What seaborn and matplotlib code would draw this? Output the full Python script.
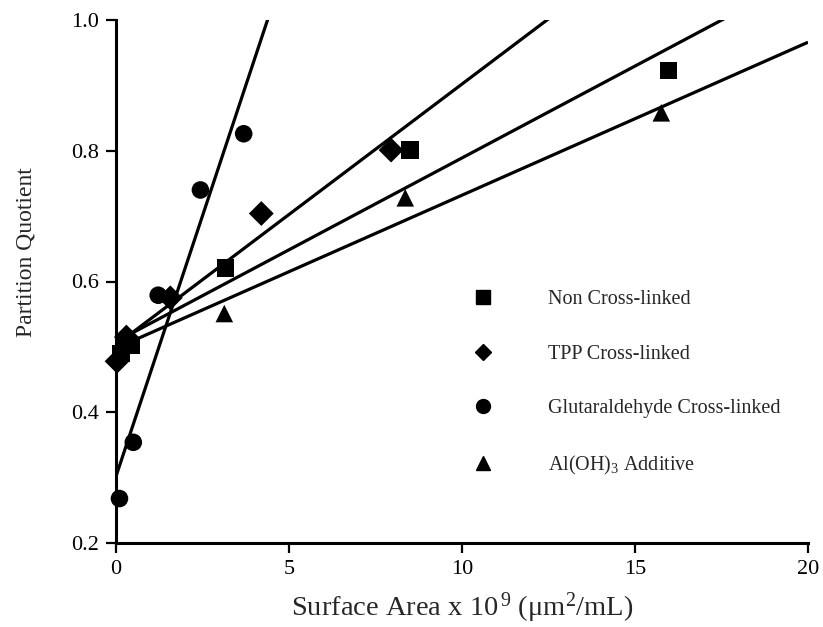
import matplotlib
matplotlib.use("Agg")
import matplotlib.pyplot as plt
from matplotlib.lines import Line2D
import seaborn as sns
import pandas as pd
import numpy as np

sns.set_theme(style="ticks")
plt.rcParams['font.family'] = ['Liberation Serif', 'DejaVu Serif']
plt.rcParams['mathtext.fontset'] = 'custom'
plt.rcParams['mathtext.rm'] = 'Liberation Serif'
plt.rcParams['mathtext.it'] = 'Liberation Serif:italic'

series_names = ["Non Cross-linked", "TPP Cross-linked",
                "Glutaraldehyde Cross-linked", "Al(OH)$_3$ Additive"]
markers = ["s", "D", "o", "^"]

non_x = [0.15, 0.45, 3.16, 8.5, 15.97]
non_y = [0.490, 0.502, 0.621, 0.801, 0.923]
tpp_x = [0.03, 0.30, 1.57, 4.2, 7.95]
tpp_y = [0.478, 0.515, 0.575, 0.704, 0.801]
glu_x = [0.10, 0.50, 1.22, 2.44, 3.69]
glu_y = [0.268, 0.354, 0.579, 0.740, 0.826]
al_x = [0.20, 3.13, 8.36, 15.76]
al_y = [0.505, 0.551, 0.728, 0.858]

# fitted lines: intercept, slope
line_intercept = [0.508, 0.503, 0.302, 0.498]
line_slope = [0.0281, 0.0399, 0.1594, 0.0234]

xs = [non_x, tpp_x, glu_x, al_x]
ys = [non_y, tpp_y, glu_y, al_y]
df = pd.concat([pd.DataFrame({"x": x, "y": y, "series": n})
                for x, y, n in zip(xs, ys, series_names)], ignore_index=True)

fig = plt.figure(figsize=(8.23, 6.27), dpi=100)
ax = fig.add_axes([116/823, 1-543/627, (808-116)/823, (543-20)/627])

xline = np.linspace(0, 20, 200)
for b, m in zip(line_intercept, line_slope):
    ax.plot(xline, b + m*xline, color="black", lw=2.3, solid_capstyle="butt")

sns.scatterplot(data=df, x="x", y="y", style="series", style_order=series_names,
                markers=dict(zip(series_names, markers)), color="black",
                s=160, edgecolor="black", linewidth=0, ax=ax, legend=False,
                clip_on=False, zorder=5)

ax.set_xlim(0, 20)
ax.set_ylim(0.2, 1.0)
ax.set_xticks([0, 5, 10, 15, 20])
ax.set_yticks([0.2, 0.4, 0.6, 0.8, 1.0])
ax.set_yticklabels(["0.2", "0.4", "0.6", "0.8", "1.0"])
for s in ["top", "right"]:
    ax.spines[s].set_visible(False)
for s in ["left", "bottom"]:
    ax.spines[s].set_linewidth(2.2)
    ax.spines[s].set_color("black")
ax.tick_params(axis="both", direction="out", length=7.5, width=1.6,
               labelsize=16, colors="black", pad=5)
ax.set_xlabel("Surface Area x 10$^{\\,9}$ ($\\mathrm{\\mu}$m$^{2}$/mL)", fontsize=20.5, labelpad=8)
ax.set_ylabel("Partition Quotient", fontsize=17)
ax.yaxis.set_label_coords(-0.115, 0.556)

handles = [Line2D([], [], marker=mk, color="black", linestyle="none",
                  markersize=10 if mk != "D" else 8) for mk in markers]
leg = ax.legend(handles, series_names, loc="upper left",
                bbox_to_anchor=(453/823, 1-272/627), bbox_transform=fig.transFigure,
                frameon=False, fontsize=14.5, labelspacing=1.76,
                handletextpad=2.6, handlelength=1.2)

fig.savefig("out.png", dpi=100)
